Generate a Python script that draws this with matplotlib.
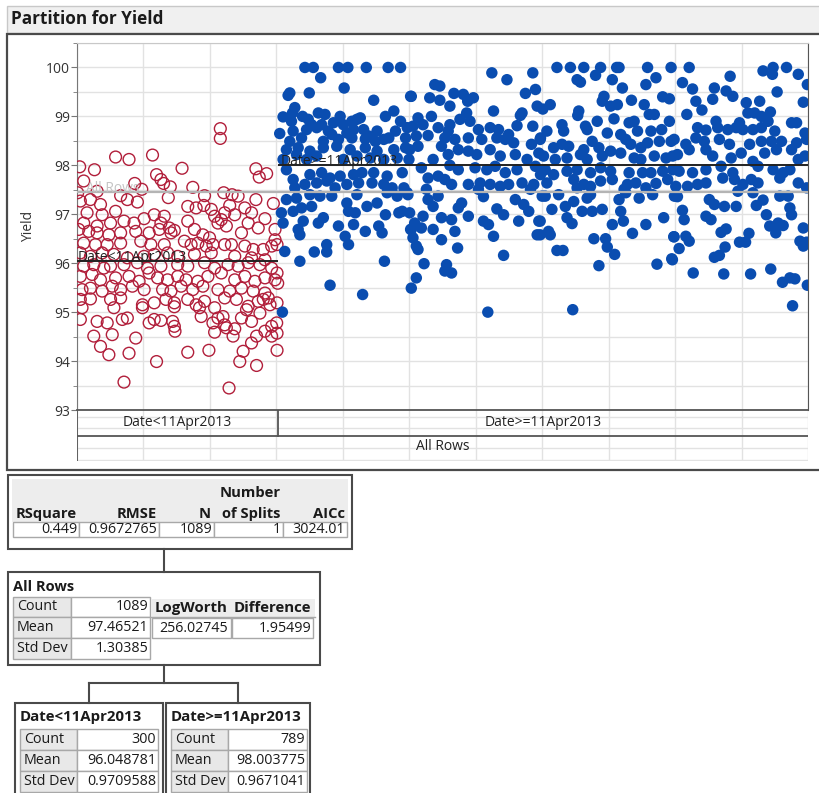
import matplotlib
matplotlib.use('Agg')
import matplotlib.pyplot as plt
from matplotlib.patches import Rectangle
from matplotlib.ticker import MultipleLocator

plt.rcParams['font.family'] = ['Open Sans', 'DejaVu Sans']

# partition summary
split_lo = 'Date<11Apr2013'
split_hi = 'Date>=11Apr2013'
n_all, n_lo, n_hi = 1089, 300, 789
mean_all, mean_lo, mean_hi = 97.46521, 96.048781, 98.003775

fit_headers = ['RSquare', 'RMSE', 'N', 'of Splits', 'AICc']
fit_values = ['0.449', '0.9672765', '1089', '1', '3024.01']
all_rows_stats = [('Count', '1089'), ('Mean', '97.46521'), ('Std Dev', '1.30385')]
split_headers = ['LogWorth', 'Difference']
split_values = ['256.02745', '1.95499']
lo_stats = [('Count', '300'), ('Mean', '96.048781'), ('Std Dev', '0.9709588')]
hi_stats = [('Count', '789'), ('Mean', '98.003775'), ('Std Dev', '0.9671041')]

# rows before the split (row position, yield)
red_x = [213.5, 213.5, 57.5, 77.5, 112.5, 156.5, 4, 26, 266.5, 271.5, 282.5, 10, 86, 118.5, 125, 129, 139,
         172.5, 218.5, 231, 240, 96.5, 1, 30, 65, 75, 136, 5, 20, 35, 90, 165, 177.5, 190, 189, 200, 227.5,
         250, 266.5, 292.5, 15, 37.5, 57.5, 100, 115, 130, 220, 235, 260, 280, 10, 30, 50, 70, 85, 125,
         137.5, 145, 165, 205, 210, 215, 245, 295, 295, 2.5, 17.5, 30, 47.5, 65, 87.5, 107.5, 122.5, 140,
         175, 187.5, 197.5, 222.5, 255, 270, 10, 27.5, 45, 65, 95, 110, 130, 160, 170, 180, 192.5, 202.5,
         220, 230, 250, 262.5, 277.5, 290, 298, 5, 20, 37.5, 55, 75, 100, 115, 135, 150, 175, 200, 235,
         260, 280, 10, 25, 40, 50, 70, 90, 105, 125, 150, 165, 190, 205, 225, 240, 255, 272.5, 290, 298,
         5, 22.5, 35, 57.5, 77.5, 92.5, 107.5, 120, 135, 150, 162.5, 180, 195, 215, 235, 250, 265, 280,
         295, 7.5, 20, 37.5, 52.5, 65, 82.5, 100, 127.5, 140, 155, 172.5, 187.5, 210, 227.5, 245, 262.5,
         280, 285, 5, 20, 50, 65, 97.5, 115, 132.5, 145, 165, 177.5, 190, 220, 237.5, 255, 270, 277.5,
         287.5, 298, 7.5, 55, 97.5, 145, 182.5, 205, 252.5, 272.5, 5, 30, 45, 67.5, 75, 107.5, 115, 125,
         142.5, 145, 146, 185, 202.5, 210, 217.5, 220, 222.5, 245, 260, 290, 297.5, 205, 235, 25, 52.5,
         87.5, 232.5, 267.5, 280, 290, 35, 47.5, 77.5, 165, 196.5, 247.5, 260, 298, 242.5, 267.5, 118.5,
         70, 226.5, 299, 298]
red_y = [98.75, 98.55, 98.17, 98.12, 98.21, 97.94, 97.97, 97.91, 97.93, 97.76, 97.83, 97.68, 97.63, 97.81,
         97.71, 97.63, 97.56, 97.55, 97.44, 97.40, 97.37, 97.51, 97.44, 97.47, 97.38, 97.30, 97.34, 97.27,
         97.30, 97.20, 97.25, 97.16, 97.13, 97.38, 97.18, 97.10, 97.18, 97.13, 97.30, 97.22, 97.03, 96.99,
         97.06, 96.91, 96.99, 96.96, 97.03, 96.99, 97.03, 96.91, 96.82, 96.76, 96.82, 96.86, 96.82, 96.82,
         96.72, 96.67, 96.86, 96.96, 96.82, 96.89, 96.62, 96.69, 96.48, 96.69, 96.65, 96.62, 96.58, 96.62,
         96.65, 96.62, 96.69, 96.62, 96.69, 96.58, 96.52, 96.76, 96.82, 96.72, 96.41, 96.38, 96.38, 96.41,
         96.45, 96.38, 96.38, 96.45, 96.38, 96.41, 96.35, 96.38, 96.38, 96.38, 96.35, 96.28, 96.28, 96.35,
         96.38, 96.21, 96.14, 96.21, 96.18, 96.11, 96.14, 96.18, 96.21, 96.14, 96.18, 96.21, 96.14, 96.11,
         96.07, 95.94, 95.97, 95.90, 95.94, 95.97, 96.01, 95.90, 95.94, 95.97, 95.94, 96.01, 95.90, 95.97,
         95.94, 96.01, 95.97, 95.90, 95.80, 95.73, 95.77, 95.66, 95.70, 95.73, 95.63, 95.80, 95.70, 95.66,
         95.73, 95.66, 95.63, 95.73, 95.80, 95.66, 95.73, 95.63, 95.70, 95.66, 95.46, 95.49, 95.43, 95.53,
         95.46, 95.53, 95.46, 95.46, 95.43, 95.53, 95.46, 95.53, 95.46, 95.43, 95.49, 95.43, 95.39, 95.29,
         95.26, 95.27, 95.26, 95.29, 95.15, 95.19, 95.26, 95.19, 95.26, 95.15, 95.22, 95.29, 95.26, 95.12,
         95.22, 95.26, 95.15, 95.19, 95.09, 95.09, 95.09, 95.11, 95.09, 95.09, 95.05, 94.98, 94.85, 94.81,
         94.78, 94.85, 94.88, 94.78, 94.85, 94.83, 94.81, 94.71, 94.61, 94.91, 94.78, 94.88, 94.91, 94.74,
         94.68, 94.88, 94.81, 94.71, 94.78, 94.59, 94.66, 94.51, 94.54, 94.47, 94.51, 94.51, 94.61, 94.51,
         94.30, 94.13, 94.16, 94.18, 94.22, 94.20, 94.37, 94.22, 93.99, 93.91, 93.99, 93.57, 93.45, 95.59,
         94.57]

# rows after the split (row position, yield)
blue_x = [339.5, 352, 389.5, 403.5, 431, 463.5, 482, 363, 398, 317, 314.5, 346, 442, 497, 324.5, 321, 307,
          336, 359.5, 369.5, 392, 417, 422, 459.5, 472, 482, 492, 319.5, 344.5, 349.5, 364.5, 382, 397,
          409.5, 302, 322, 342, 357, 374.5, 379.5, 402, 412, 427, 434.5, 447, 457, 474.5, 489.5, 317,
          334.5, 367, 389.5, 409.5, 429.5, 444.5, 464.5, 312, 329.5, 347, 367, 387, 407, 429.5, 447, 472,
          489.5, 307, 327, 342, 357, 397, 417, 437, 457, 477, 494.5, 312, 322, 347, 364.5, 377, 392, 412,
          424.5, 442, 462, 484.5, 324.5, 339.5, 357, 372, 384.5, 402, 419.5, 439.5, 457, 469.5, 487, 312,
          327, 347, 362, 379.5, 402, 417, 432, 447, 462, 477, 492, 304.5, 322, 334.5, 349.5, 404.5, 414.5,
          459.5, 479.5, 484.5, 307, 337, 367, 359.5, 389.5, 412, 429.5, 449.5, 454.5, 329.5, 332, 399.5,
          372, 404.5, 497, 309.5, 353.5, 372, 332, 458, 377, 425.5, 306,
          618, 640.5, 679, 683, 668, 533, 540.5, 498, 525.5, 540.5, 561.5, 575.5, 590.5, 582, 555.5, 685.5,
          620.5, 663, 508, 528, 580.5, 570.5, 585.5, 660.5, 679, 500.5, 515.5, 538, 555.5, 598, 615.5, 628,
          643, 655.5, 553, 505.5, 523, 548, 563, 583, 603, 625.5, 638, 650.5, 677, 690.5, 495.5, 508, 543,
          568, 583, 595.5, 615.5, 630.5, 653, 670.5, 688, 530.5, 553, 513, 555.5, 568, 593, 610.5, 623,
          638, 655.5, 683, 690.5, 523, 538, 548, 558, 583, 600.5, 615.5, 630.5, 643, 663, 680.5, 598,
          520.5, 493, 675.5, 523, 538, 573, 605.5, 625.5, 635.5, 653, 665.5, 673, 693, 530.5, 568, 583,
          495.5, 515.5, 543, 558, 605.5, 613, 658, 688, 503, 513, 530.5, 563, 620.5, 685.5, 498, 500.5,
          543, 505.5, 508, 567, 635.5, 517, 550.5, 548, 558, 505.5, 498, 612,
          715, 735, 755, 780, 804, 807.5, 850, 885, 745, 750, 772.5, 797.5, 812.5, 847.5, 862.5, 705, 694,
          747.5, 746, 785, 782.5, 795, 805, 826, 845, 852.5, 860, 872.5, 882.5, 800, 722.5, 757.5, 775,
          822.5, 830, 882.5, 700, 725, 760, 790, 810, 835, 855, 871, 690, 710, 722.5, 732.5, 755, 767.5,
          777.5, 795, 810, 825, 840, 850, 867.5, 885, 817.5, 695, 712.5, 730, 750, 760, 782.5, 830, 860,
          877.5, 887.5, 840, 697.5, 710, 730, 745, 765, 780, 795, 822.5, 842.5, 855, 872.5, 887.5, 700,
          740, 755, 765, 780, 797.5, 820, 832.5, 847.5, 862.5, 880, 745, 697.5, 717.5, 760, 765, 807.5,
          817.5, 837.5, 857.5, 890, 815, 707.5, 727.5, 740, 752.5, 767.5, 782.5, 810, 730, 737.5, 690,
          814, 797.5, 847.5, 874, 702.5, 705, 690, 770, 787.5, 827.5, 889, 790, 715, 724, 801, 777.5, 864,
          886, 738.5,
          912, 1022, 1037, 1036, 1057, 1074.5, 973, 902, 917, 949.5, 967, 977, 1088, 1043, 922, 947, 997,
          1017, 1082, 931, 908.5, 999.5, 1009.5, 1019.5, 1033, 952, 987, 1029.5, 1064.5, 1072, 924.5, 937,
          954.5, 969.5, 982, 992, 1007, 1019.5, 1039.5, 1084.5, 889.5, 907, 922, 934.5, 957, 972, 1002,
          1019.5, 1034.5, 1049.5, 1072, 1087, 894.5, 912, 937, 947, 974.5, 989.5, 1007, 1024.5, 1042,
          1064.5, 1074.5, 1084.5, 897, 917, 937, 959.5, 977, 1037, 1052, 1062, 1014.5, 892, 909.5, 924.5,
          937, 962, 979.5, 992, 1004.5, 1014.5, 984.5, 1007, 1074.5, 1087, 1047, 894.5, 942, 949.5, 964.5,
          982, 1012, 1022, 1047, 1059.5, 902, 904.5, 937, 944.5, 1027, 1062, 1064.5, 1032, 1044.5, 1052,
          1041, 1082, 889.5, 907, 912, 959.5, 967, 1001, 987, 996, 1077, 1082, 1087, 897, 887, 949.5, 957,
          965.5, 918, 963.5, 1003.5, 1033.5, 1051, 1062, 1069.5, 1088, 1066]
blue_y = [100, 100, 100, 100, 100, 100, 100, 99.79, 99.58, 99.48, 99.43, 99.48, 99.33, 99.41, 99.18, 99.07,
          98.99, 99.00, 99.07, 99.04, 99.00, 98.94, 98.97, 99.00, 99.11, 98.90, 98.77, 98.90, 98.94, 98.83,
          98.83, 98.87, 98.83, 98.90, 98.65, 98.70, 98.73, 98.77, 98.70, 98.63, 98.66, 98.73, 98.73, 98.60,
          98.70, 98.53, 98.70, 98.56, 98.49, 98.56, 98.49, 98.53, 98.56, 98.54, 98.49, 98.56, 98.32, 98.36,
          98.29, 98.36, 98.39, 98.32, 98.36, 98.29, 98.32, 98.36, 98.12, 98.22, 98.12, 98.19, 98.12, 98.19,
          98.15, 98.12, 98.15, 98.12, 97.91, 97.71, 97.81, 97.85, 97.74, 97.78, 97.81, 97.85, 97.85, 97.78,
          97.85, 97.54, 97.61, 97.64, 97.68, 97.54, 97.61, 97.64, 97.64, 97.61, 97.54, 97.54, 97.30, 97.33,
          97.40, 97.37, 97.37, 97.23, 97.40, 97.16, 97.23, 97.44, 97.37, 97.44, 97.03, 97.06, 97.13, 97.16,
          97.06, 97.03, 96.99, 97.03, 97.06, 96.82, 96.86, 96.93, 96.82, 96.76, 96.79, 96.65, 96.76, 96.62,
          96.69, 96.58, 96.55, 96.38, 96.38, 96.69, 96.24, 96.23, 96.23, 96.04, 96.04, 95.55, 95.36, 95.00,
          99.89, 99.75, 99.89, 99.55, 99.47, 99.65, 99.62, 99.41, 99.38, 99.33, 99.47, 99.45, 99.38, 99.31,
          99.21, 99.21, 99.11, 99.07, 98.97, 99.00, 99.07, 98.94, 98.90, 99.02, 98.80, 98.80, 98.83, 98.77,
          98.83, 98.73, 98.77, 98.73, 98.63, 98.81, 98.70, 98.60, 98.61, 98.56, 98.53, 98.56, 98.53, 98.56,
          98.53, 98.46, 98.43, 98.56, 98.32, 98.39, 98.39, 98.32, 98.29, 98.22, 98.32, 98.19, 98.22, 98.12,
          98.25, 98.12, 98.22, 97.95, 98.00, 97.91, 97.95, 97.91, 97.98, 97.85, 97.91, 97.98, 97.81, 97.74,
          97.78, 97.71, 97.61, 97.61, 97.64, 97.61, 97.57, 97.61, 97.64, 97.61, 97.51, 97.51, 97.40, 97.51,
          97.30, 97.37, 97.23, 97.36, 97.11, 96.99, 97.30, 97.20, 97.06, 97.37, 97.16, 97.13, 96.96, 97.03,
          96.96, 96.93, 96.89, 96.86, 96.79, 96.86, 96.86, 96.82, 96.72, 96.69, 96.65, 96.55, 96.58, 96.69,
          96.52, 96.48, 96.35, 96.28, 96.31, 96.16, 95.99, 95.97, 95.84, 95.80, 95.70, 95.49, 95.00,
          100, 100, 100, 100, 100, 100, 100, 100, 99.75, 99.70, 99.84, 99.75, 99.58, 99.65, 99.79, 99.24,
          99.15, 99.11, 99.02, 99.41, 99.31, 99.21, 99.24, 99.33, 99.24, 99.04, 99.04, 99.40, 99.36, 98.95,
          98.83, 98.80, 98.90, 98.87, 98.90, 98.90, 98.70, 98.70, 98.73, 98.66, 98.63, 98.70, 98.70, 98.73,
          98.53, 98.36, 98.43, 98.39, 98.32, 98.49, 98.36, 98.29, 98.25, 98.43, 98.36, 98.46, 98.49, 98.49,
          98.53, 98.19, 98.12, 98.15, 98.22, 98.12, 98.19, 98.15, 98.19, 98.15, 98.19, 98.12, 97.91, 97.81,
          97.88, 97.91, 97.85, 97.95, 97.88, 97.85, 97.85, 97.85, 97.88, 97.91, 97.64, 97.71, 97.61, 97.57,
          97.68, 97.71, 97.61, 97.64, 97.54, 97.63, 97.71, 97.54, 97.37, 97.40, 97.33, 97.40, 97.30, 97.44,
          97.33, 97.40, 97.37, 97.51, 97.10, 97.16, 97.26, 97.06, 97.06, 97.10, 97.06, 96.93, 96.81, 96.86,
          96.86, 96.79, 96.79, 96.93, 96.65, 96.58, 96.58, 96.50, 96.50, 96.61, 96.54, 96.33, 96.26, 96.26,
          96.18, 95.95, 95.98, 96.09, 95.05,
          100, 99.93, 100, 99.86, 100, 99.86, 99.82, 99.69, 99.56, 99.58, 99.52, 99.41, 99.65, 99.50, 99.31,
          99.35, 99.28, 99.31, 99.29, 99.13, 99.04, 99.07, 99.07, 99.00, 99.09, 98.90, 98.87, 98.90, 98.87,
          98.87, 98.77, 98.72, 98.77, 98.73, 98.77, 98.73, 98.73, 98.77, 98.70, 98.66, 98.53, 98.43, 98.56,
          98.49, 98.53, 98.43, 98.43, 98.49, 98.49, 98.49, 98.46, 98.53, 98.22, 98.32, 98.32, 98.19, 98.15,
          98.25, 98.08, 98.25, 98.32, 98.32, 98.12, 98.19, 97.88, 97.85, 97.91, 97.98, 97.85, 97.91, 97.85,
          97.91, 97.98, 97.57, 97.57, 97.61, 97.64, 97.74, 97.71, 97.61, 97.71, 97.64, 97.47, 97.44, 97.64,
          97.54, 97.74, 97.36, 97.30, 97.20, 97.16, 97.16, 97.18, 97.29, 97.37, 97.37, 97.08, 96.89, 96.96,
          96.89, 96.99, 97.13, 96.99, 96.76, 96.82, 96.77, 96.62, 96.72, 96.54, 96.55, 96.45, 96.63, 96.70,
          96.61, 96.43, 96.43, 96.45, 96.35, 96.43, 96.30, 96.07, 96.12, 96.16, 96.33, 95.80, 95.78, 95.78,
          95.88, 95.61, 95.70, 95.68, 95.55, 95.13]

RED = '#b11e3a'
BLUE = '#0a4db0'
W, H = 819, 793


def fx(px):
    return px / W


def fy(py):
    return 1 - py / H


fig = plt.figure(figsize=(W / 100, H / 100), dpi=100)
fig.patch.set_facecolor('white')

# overlay in pixel units for the report frame and tables
ov = fig.add_axes([0, 0, 1, 1], zorder=0)
ov.set_xlim(0, W)
ov.set_ylim(H, 0)
ov.axis('off')


def box(x0, y0, x1, y1, face='white', edge='#a8a8a8', lw=1.0, z=1):
    ov.add_patch(Rectangle((x0, y0), x1 - x0, y1 - y0, facecolor=face, edgecolor=edge, lw=lw, zorder=z))


def txt(x, y, s, ha='left', bold=False, size=10.3, color='#1a1a1a'):
    ov.text(x, y, s, ha=ha, va='center', fontsize=size, color=color,
            fontweight='bold' if bold else 'normal', zorder=5)


# header bar and outline
box(7, 6, 830, 33, face='#f0f0f0', edge='#c8c8c8')
txt(11, 19, 'Partition for Yield', bold=True, size=12.3)
box(7, 34, 830, 470, face='white', edge='#4a4a4a', lw=1.6)

# main plot
ax = fig.add_axes([fx(77), fy(410), fx(808) - fx(77), fy(43) - fy(410)], zorder=2)
ax.set_xlim(0, n_all)
ax.set_ylim(93, 100.5)
ax.yaxis.set_major_locator(MultipleLocator(1))
ax.yaxis.set_minor_locator(MultipleLocator(0.5))
ax.set_xticks([])
ax.tick_params(axis='y', which='major', length=4, color='#777', labelsize=10, labelcolor='#333', pad=1)
ax.tick_params(axis='y', which='minor', length=3, color='#777')
for v in [93 + 0.5 * k for k in range(16)]:
    ax.axhline(v, color='#e2e2e2', lw=1, zorder=0)
for k in range(12):
    ax.axvline(k * n_all / 11, color='#e2e2e2', lw=1, zorder=0)
ax.spines['left'].set_color('#777')
ax.spines['top'].set_color('#c8c8c8')
ax.spines['right'].set_color('#555')
ax.spines['bottom'].set_color('#555')
ax.spines['bottom'].set_linewidth(1.3)
ax.set_ylabel('Yield', fontsize=10, color='#333', labelpad=7)

ax.scatter(red_x, red_y, s=72, facecolors='none', edgecolors=RED, linewidths=1.0, zorder=3)
ax.scatter(blue_x, blue_y, s=68, color=BLUE, edgecolors='none', zorder=3)

ax.hlines(mean_all, 0, n_all, color='#b4b4b4', lw=1.6, zorder=4)
ax.hlines(mean_lo, 0, n_lo, color='#222', lw=1.4, zorder=4)
ax.hlines(mean_hi, n_lo, n_all, color='#222', lw=1.4, zorder=4)
ax.text(14, mean_all - 0.02, 'All Rows', fontsize=10, color='#c4c4c4', va='baseline', zorder=5)
ax.text(1, mean_lo, split_lo, fontsize=10, color='#222', va='baseline', zorder=5)
ax.text(n_lo + 3, mean_hi, split_hi, fontsize=10, color='#222', va='baseline', zorder=5)

# split label strip under the plot
sx = fig.add_axes([fx(77), fy(461), fx(808) - fx(77), fy(410) - fy(461)], zorder=1)
sx.set_xlim(0, n_all)
sx.set_ylim(51, 0)
sx.axis('off')
for k in range(12):
    sx.axvline(k * n_all / 11, color='#e2e2e2', lw=1)
for yy in [7, 18, 38, 50]:
    sx.axhline(yy, color='#e2e2e2', lw=1)
sx.axhline(26, color='#555', lw=1.3)
sx.plot([n_lo, n_lo], [0, 26], color='#555', lw=1.3)
sx.plot([0, 0], [0, 51], color='#555', lw=1.3)
sx.text(n_lo / 2, 12, split_lo, ha='center', va='center', fontsize=10, color='#222')
sx.text(n_lo + n_hi / 2, 12, split_hi, ha='center', va='center', fontsize=10, color='#222')
sx.text(n_all / 2, 37, 'All Rows', ha='center', va='center', fontsize=10, color='#222')

# fit summary table
box(8, 475, 352, 549, edge='#4a4a4a', lw=1.5)
box(12, 479, 348, 522, face='#ededed', edge='none')
txt(281, 493, 'Number', ha='right', bold=True, size=10.6)
head_right = [77, 157, 211, 281, 345]
cell_edges = [13, 79, 159, 214, 283, 347]
for i, h in enumerate(fit_headers):
    txt(head_right[i], 514, h, ha='right', bold=True, size=10.6)
for i, v in enumerate(fit_values):
    box(cell_edges[i], 522, cell_edges[i + 1], 537)
    txt(cell_edges[i + 1] - 2, 529.5, v, ha='right')

ov.plot([164, 164], [549, 572], color='#4a4a4a', lw=1.5)

# root node
box(8, 572, 320, 665, edge='#4a4a4a', lw=1.5)
txt(13, 587, 'All Rows', bold=True, size=10.5)
rows_y = [597, 617, 638, 659]
for i, (lab, val) in enumerate(all_rows_stats):
    box(13, rows_y[i], 71, rows_y[i + 1], face='#e8e8e8')
    box(71, rows_y[i], 150, rows_y[i + 1])
    txt(17, (rows_y[i] + rows_y[i + 1]) / 2, lab)
    txt(148, (rows_y[i] + rows_y[i + 1]) / 2, val, ha='right')
box(151, 599, 315, 617, face='#ededed', edge='none')
ov.plot([151, 315], [617, 617], color='#a8a8a8', lw=1)
txt(228, 608, split_headers[0], ha='right', bold=True, size=10.8)
txt(311, 608, split_headers[1], ha='right', bold=True, size=10.8)
box(152, 618, 231, 638)
box(232, 618, 313, 638)
txt(228, 628, split_values[0], ha='right')
txt(311, 628, split_values[1], ha='right')

# connector to child nodes
ov.plot([164, 164], [665, 683], color='#4a4a4a', lw=1.5)
ov.plot([89, 238], [683, 683], color='#4a4a4a', lw=1.5)
ov.plot([89, 89], [683, 703], color='#4a4a4a', lw=1.5)
ov.plot([238, 238], [683, 703], color='#4a4a4a', lw=1.5)

# child nodes
child_rows = [729, 750, 771, 792]
for (x0, x1, lab_x1, val_x1, title, stats) in [(15, 163, 77, 158, split_lo, lo_stats),
                                                (166, 310, 228, 307, split_hi, hi_stats)]:
    box(x0, 703, x1, 800, edge='#4a4a4a', lw=1.5)
    txt(x0 + 5, 717, title, bold=True, size=10.8)
    for i, (lab, val) in enumerate(stats):
        box(x0 + 5, child_rows[i], lab_x1, child_rows[i + 1], face='#e8e8e8')
        box(lab_x1, child_rows[i], val_x1, child_rows[i + 1])
        txt(x0 + 9, (child_rows[i] + child_rows[i + 1]) / 2, lab)
        txt(val_x1 - 2, (child_rows[i] + child_rows[i + 1]) / 2, val, ha='right')

fig.savefig('out.png', dpi=100)
